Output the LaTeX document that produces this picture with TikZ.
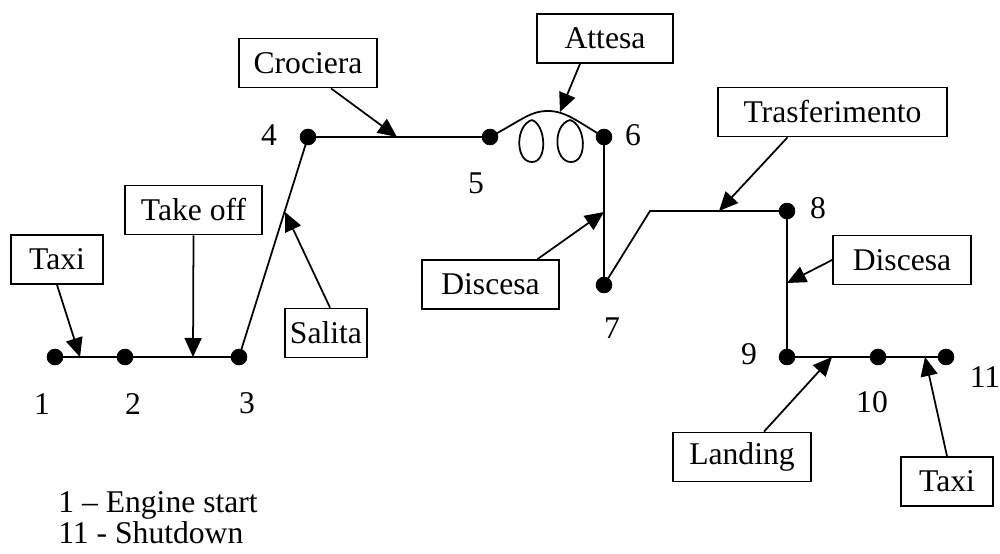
\documentclass[tikz,border=0pt]{standalone}
\usepackage{fontspec}
\setmainfont{Liberation Serif}
\usepackage{tikz}
\usetikzlibrary{positioning,arrows.meta,calc}

\begin{document}
\begin{tikzpicture}[x=0.02cm,y=-0.02cm,
	box/.style={draw,line width=1pt,minimum width=2.74cm,minimum height=0.98cm,inner sep=0pt,font=\fontsize{18}{21}\selectfont},
	num/.style={font=\fontsize{18}{21}\selectfont},
	freccia/.style={-{Triangle[length=0.38cm,width=0.34cm]},line width=1pt}]
	\useasboundingbox (0,0) rectangle (1000,554);
	% punti della traiettoria
	\coordinate (p1) at (55,357);
	\coordinate (p2) at (125,357);
	\coordinate (p3) at (239,357);
	\coordinate (p4) at (308,137);
	\coordinate (p5) at (490,137);
	\coordinate (p6) at (604,137);
	\coordinate (p7) at (604,285);
	\coordinate (k) at (650,211);
	\coordinate (p8) at (787,211);
	\coordinate (p9) at (787,357);
	\coordinate (p10) at (878,357);
	\coordinate (p11) at (946,357);
	\draw  [black,line width=1pt](p1)--(p2)--(p3)--(p4)--(p5);
	\draw  [black,line width=1pt](p5) .. controls (522,120) and (530,111) .. (548,111) .. controls (566,111) and (578,122) .. (p6);
	\draw  [black,line width=1pt](532,120) .. controls (515,125) and (515,162) .. (532,162) .. controls (548,162) and (546,125) .. (532,120);
	\draw  [black,line width=1pt](570,120) .. controls (552,125) and (554,162) .. (571,162) .. controls (588,162) and (586,125) .. (570,120);
	\draw  [black,line width=1pt](p6)--(p7)--(k)--(p8)--(p9)--(p10)--(p11);
	\filldraw [black] (p1) circle (4.5pt);
	\filldraw [black] (p2) circle (4.5pt);
	\filldraw [black] (p3) circle (4.5pt);
	\filldraw [black] (p4) circle (4.5pt);
	\filldraw [black] (p5) circle (4.5pt);
	\filldraw [black] (p6) circle (4.5pt);
	\filldraw [black] (p7) circle (4.5pt);
	\filldraw [black] (p8) circle (4.5pt);
	\filldraw [black] (p9) circle (4.5pt);
	\filldraw [black] (p10) circle (4.5pt);
	\filldraw [black] (p11) circle (4.5pt);
	\node[num] (l1) at (42,404) {1};
	\node[num] (l2) at (133,404) {2};
	\node[num] (l3) at (247,403) {3};
	\node[num] (l4) at (269,135) {4};
	\node[num] (l5) at (476,183) {5};
	\node[num] (l6) at (633,135) {6};
	\node[num] (l7) at (612,328) {7};
	\node[num] (l8) at (818,208) {8};
	\node[num] (l9) at (749,354) {9};
	\node[num] (l10) at (872,402) {10};
	\node[num] (l11) at (985,377) {11};
	% fasi
	\node[box,minimum width=1.84cm] (taxiA) at (57,259.5) {Taxi};
	\node[box] (takeoff) at (193.5,210) {Take off};
	\node[box,minimum width=2.76cm] (croc) at (308,63) {Crociera};
	\node[box,minimum width=2.72cm] (attesa) at (605,38.5) {Attesa};
	\node[box,minimum width=1.64cm] (salita) at (326,333) {Salita};
	\node[box] (discL) at (490.5,284.5) {Discesa};
	\node[box,minimum width=4.58cm] (trasf) at (832.5,112) {Trasferimento};
	\node[box,minimum width=2.76cm] (discR) at (902,260) {Discesa};
	\node[box,minimum width=2.76cm] (landing) at (742,457) {Landing};
	\node[box,minimum width=1.84cm] (taxiB) at (947,481.5) {Taxi};
	% frecce
	\coordinate (tA) at (80,357);
	\coordinate (tB) at (193,357);
	\coordinate (tC) at (397,137);
	\coordinate (tD) at (560,112);
	\coordinate (tE) at (285,212);
	\coordinate (tF) at (604,212);
	\coordinate (tG) at (719,211);
	\coordinate (tH) at (787,283);
	\coordinate (tI) at (832,357);
	\coordinate (tJ) at (925,357);
	\draw [freccia] (taxiA.south)--(tA);
	\draw [freccia] (takeoff.south)--(tB);
	\draw [freccia] ($(croc.south)+(23,0)$)--(tC);
	\draw [freccia] ($(attesa.south)+(-25,0)$)--(tD);
	\draw [freccia] ($(salita.north)+(4,0)$)--(tE);
	\draw [freccia] ($(discL.north)+(47,0)$)--(tF);
	\draw [freccia] ($(trasf.south)+(-45,0)$)--(tG);
	\draw [freccia] (discR.west)--(tH);
	\draw [freccia] ($(landing.north)+(22,0)$)--(tI);
	\draw [freccia] (taxiB.north)--(tJ);
	% legenda
	\node[num,anchor=west,inner sep=0pt] (leg1) at (58,505) {1 – Engine start};
	\node[num,anchor=west,inner sep=0pt] (leg2) at (58,533) {11 - Shutdown};
\end{tikzpicture}
\end{document}
